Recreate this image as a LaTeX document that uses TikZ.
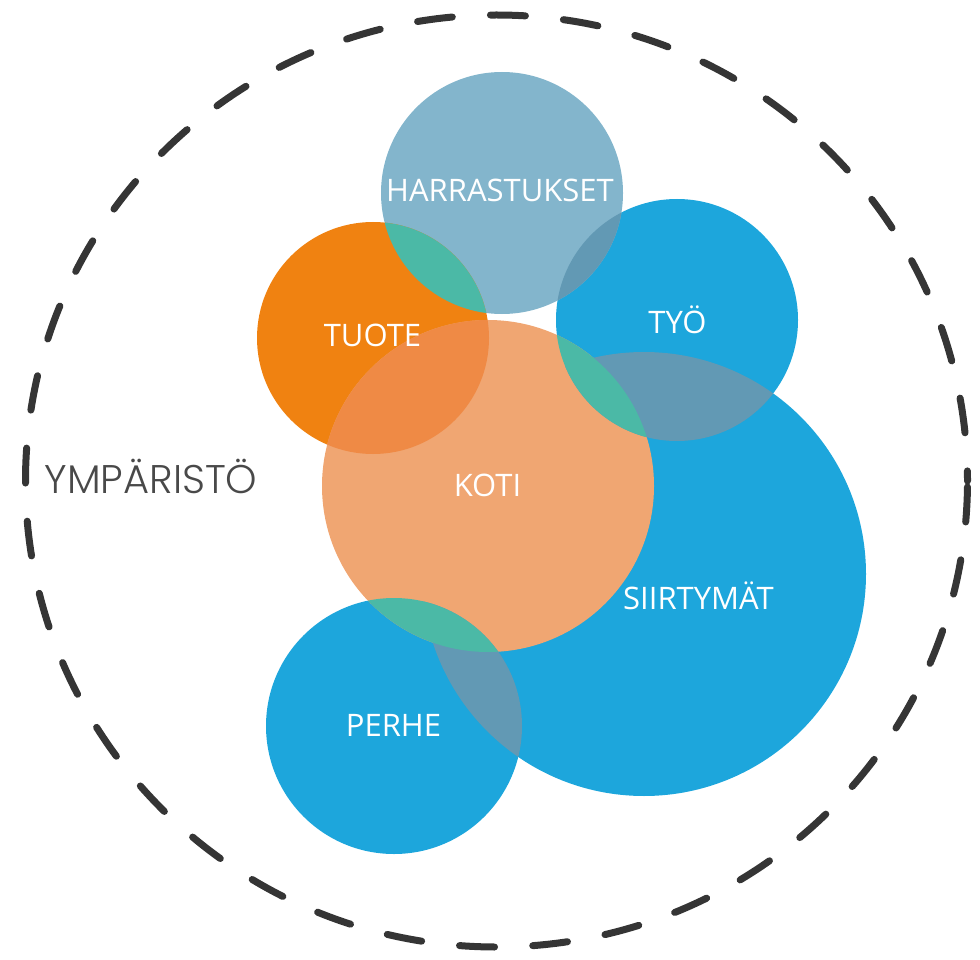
\documentclass[tikz,border=0pt]{standalone}
\usepackage{fontspec}
\setmainfont{Open Sans}
\newfontfamily\envfont{Poppins Light}
\definecolor{bubbleblue}{HTML}{1DA6DC}
\definecolor{hobbyblue}{HTML}{83B5CC}
\definecolor{productorange}{HTML}{F08211}
\definecolor{homepeach}{HTML}{F0A672}
\definecolor{mixteal}{HTML}{4BB9A6}
\definecolor{mixgrey}{HTML}{6299B4}
\definecolor{mixorange}{HTML}{EF8A45}
\definecolor{ringgrey}{HTML}{353535}
\begin{document}
\begin{tikzpicture}[x=1pt,y=-1pt,
  bubble/.style={circle, inner sep=0pt, outer sep=0pt, draw=none, minimum size=2*#1},
  tag/.style={text=white, anchor=base, inner sep=0pt, font=\fontsize{31}{37}\selectfont},
  ring/.style={draw=ringgrey, line width=7pt, line cap=round,
    dash pattern=on 35pt off 38.2pt, dash phase=-6pt}]
\useasboundingbox (0,0) rectangle (980,960);

% environment ring
\coordinate (env) at (496.5,481);
\draw[ring] (env) ellipse [x radius=471, y radius=466];

% bubbles
\node[bubble=222, fill=bubbleblue]    (siir)  at (644,574) {};
\node[bubble=121, fill=bubbleblue]    (tyo)   at (677,320) {};
\node[bubble=128, fill=bubbleblue]    (perhe) at (394,726) {};
\node[bubble=121, fill=hobbyblue]     (harr)  at (502,193) {};
\node[bubble=116, fill=productorange] (tuote) at (373,338) {};
\node[bubble=166, fill=homepeach]     (koti)  at (488,486) {};

% overlaps
\begin{scope}
  \clip (tyo.center) circle[radius=121];
  \fill[mixgrey] (siir.center) circle[radius=222];
\end{scope}
\begin{scope}
  \clip (perhe.center) circle[radius=128];
  \fill[mixgrey] (siir.center) circle[radius=222];
\end{scope}
\begin{scope}
  \clip (harr.center) circle[radius=121];
  \fill[mixgrey] (tyo.center) circle[radius=121];
\end{scope}
\begin{scope}
  \clip (tuote.center) circle[radius=116];
  \fill[mixteal] (harr.center) circle[radius=121];
\end{scope}
\begin{scope}
  \clip (tuote.center) circle[radius=116];
  \fill[mixorange] (koti.center) circle[radius=166];
\end{scope}
\begin{scope}
  \clip (koti.center) circle[radius=166];
  \fill[mixteal] (tyo.center) circle[radius=121];
  \fill[mixteal] (perhe.center) circle[radius=128];
\end{scope}

% labels
\node[tag] (harrl)  at (500,202)   {HARRASTUKSET};
\node[tag] (tuotel) at (372.5,346) {TUOTE};
\node[tag] (tyol)   at (677.5,333) {TYÖ};
\node[tag] (kotil)  at (487.5,496) {KOTI};
\node[tag] (siirl)  at (698.5,609) {SIIRTYMÄT};
\node[tag] (perhel) at (393.5,736) {PERHE};
\node[anchor=base, inner sep=0pt, text=ringgrey!90, font=\envfont\fontsize{40}{48}\selectfont] (envl) at (151,493) {YMPÄRISTÖ};
\end{tikzpicture}
\end{document}
